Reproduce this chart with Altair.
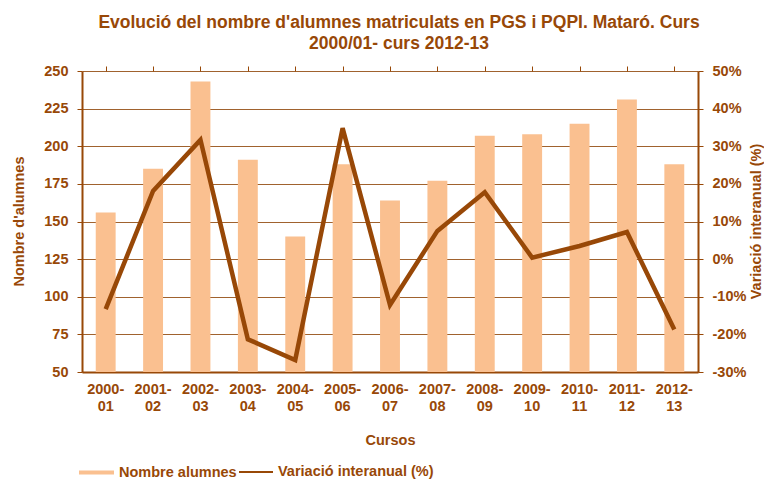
import altair as alt
import pandas as pd

cursos = ["2000-01", "2001-02", "2002-03", "2003-04", "2004-05", "2005-06", "2006-07",
          "2007-08", "2008-09", "2009-10", "2010-11", "2011-12", "2012-13"]
alumnes = [156, 185, 243, 191, 140, 188, 164, 177, 207, 208, 215, 231, 188]
variacio = [-13.3, 18.1, 31.7, -21.3, -26.8, 34.8, -12.2, 7.5, 17.8, 0.4, 3.5, 7.2, -18.7]
left_ticks = [50, 75, 100, 125, 150, 175, 200, 225, 250]
right_ticks = [-30, -20, -10, 0, 10, 20, 30, 40, 50]
serie_barres = "Nombre alumnes"
serie_linia = "Variació interanual (%)"

df = pd.DataFrame({"Curs": cursos, "Alumnes": alumnes, "Variacio": variacio,
                   "SB": serie_barres, "SL": serie_linia})

BROWN = "#984807"
BAR = "#FAC090"
GRID = "#A0622E"
FONT = "Liberation Sans"
FS = 14.5

bars = alt.Chart(df).mark_bar().encode(
    x=alt.X("Curs:N", sort=cursos,
            scale=alt.Scale(paddingInner=0.58, paddingOuter=0.29),
            axis=alt.Axis(title="Cursos", labelAngle=0,
                          labelExpr="[slice(datum.label,0,5), slice(datum.label,5)]",
                          ticks=False, domain=True, domainColor=BROWN, domainWidth=2,
                          labelPadding=10, titlePadding=21, labelLineHeight=17)),
    y=alt.Y("Alumnes:Q", scale=alt.Scale(domain=[50, 250], nice=False, zero=False),
            axis=alt.Axis(values=left_ticks, title="Nombre d'alumnes", grid=True,
                          gridColor=GRID, gridWidth=1, tickSize=5, tickColor=BROWN,
                          domainColor=BROWN, domainWidth=2, labelPadding=9,
                          titleX=-63, titleY=150, titleBaseline="middle")),
    y2=alt.datum(50),
    color=alt.Color("SB:N", scale=alt.Scale(range=[BAR]),
                    legend=alt.Legend(title=None, orient="none", legendX=-4, legendY=383,
                                      symbolType="M-1,-0.11H1V0.11H-1Z", symbolSize=1225,
                                      symbolOpacity=1, labelOffset=4, padding=0)),
)

line = alt.Chart(df).mark_line(strokeWidth=4.5).encode(
    x=alt.X("Curs:N", sort=cursos, scale=alt.Scale(padding=0.5), axis=None),
    y=alt.Y("Variacio:Q", scale=alt.Scale(domain=[-30, 50], nice=False, zero=False),
            axis=alt.Axis(orient="right", values=right_ticks, labelExpr="datum.value + '%'",
                          title="Variació interanual (%)", grid=False, tickSize=5,
                          tickColor=BROWN, domainColor=BROWN, domainWidth=2,
                          labelPadding=9, titleAngle=270, titleX=58, titleY=150,
                          titleBaseline="middle")),
    stroke=alt.Stroke("SL:N", scale=alt.Scale(range=[BROWN]),
                      legend=alt.Legend(title=None, orient="none", legendX=156, legendY=383,
                                        symbolType="stroke", symbolSize=1156,
                                        symbolStrokeWidth=2, labelOffset=4, padding=0)),
)

ticks = alt.Chart(df).mark_point(opacity=0).encode(
    x=alt.X("Curs:N", sort=cursos, scale=alt.Scale(paddingInner=0, paddingOuter=0),
            axis=alt.Axis(title=None, labels=False, domain=False, ticks=True, tickSize=5,
                          tickColor=BROWN, tickWidth=1, bandPosition=0)),
    y=alt.value(0),
)

chart = alt.layer(bars, line, ticks).resolve_scale(
    x="independent", y="independent", color="independent", stroke="independent"
).resolve_axis(x="independent").properties(
    width=616, height=301,
    autosize=alt.AutoSizeParams(type="none"),
    padding={"left": 74, "top": 63, "right": 66, "bottom": 110},
    title=alt.TitleParams(
        text=["Evolució del nombre d'alumnes matriculats en PGS i PQPI. Mataró. Curs",
              "2000/01- curs 2012-13"],
        anchor="middle", dx=9, offset=11, fontSize=17.5, fontWeight="bold",
        color=BROWN, font=FONT, lineHeight=21),
).configure_view(stroke=None).configure_axis(
    labelFont=FONT, labelFontSize=FS, labelFontWeight="bold", labelColor=BROWN,
    titleFont=FONT, titleFontSize=FS, titleFontWeight="bold", titleColor=BROWN,
).configure_legend(
    labelFont=FONT, labelFontSize=FS, labelFontWeight="bold", labelColor=BROWN,
)

chart.save("out.html", embed_options={"renderer": "svg", "actions": False})
